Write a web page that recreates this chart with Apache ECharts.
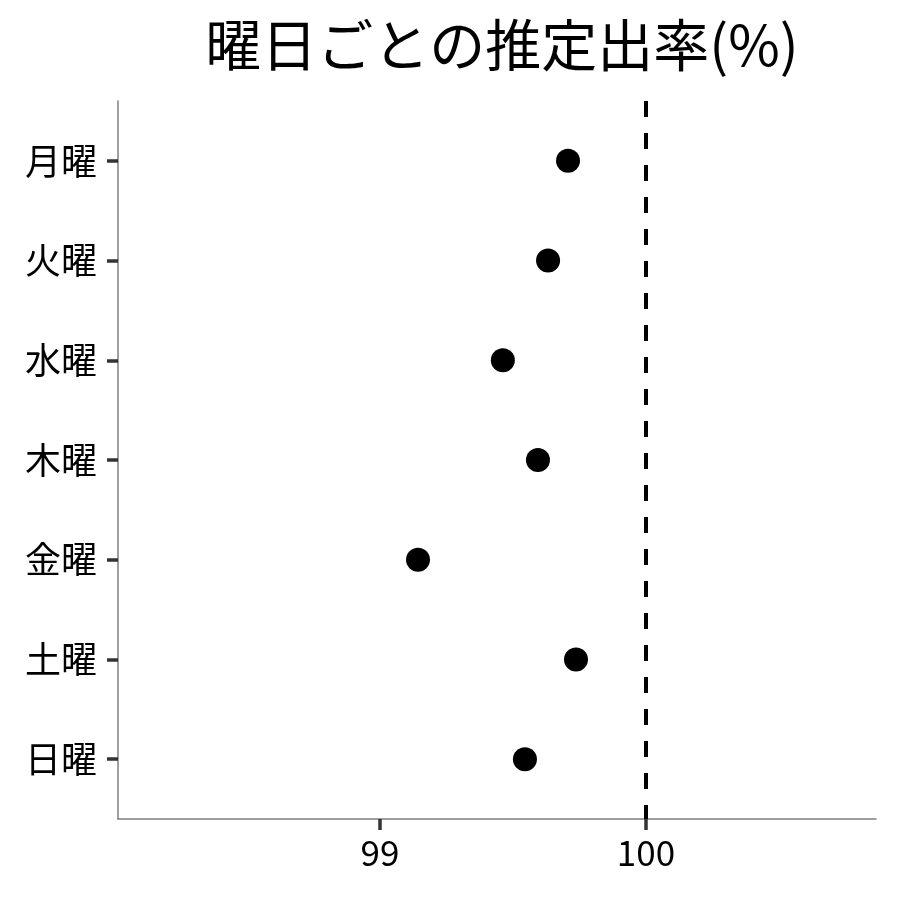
<!DOCTYPE html>
<html>
<head>
<meta charset="utf-8">
<script src="https://cdn.jsdelivr.net/npm/echarts@6/dist/echarts.min.js"></script>
<style>
  html, body { margin: 0; padding: 0; background: #fff; }
  #chart { width: 900px; height: 900px; }
</style>
</head>
<body>
<div id="chart"></div>
<script>
// 曜日と推定値（読み取り）
var days = ['月曜', '火曜', '水曜', '木曜', '金曜', '土曜', '日曜'];
var rates = [99.707, 99.632, 99.462, 99.594, 99.143, 99.737, 99.545];
var xTicks = [99, 100];
var refValue = 100;

var font = '"Noto Sans CJK JP", "Noto Sans", sans-serif';
var points = rates.map(function (v, i) { return [v, i]; });

var chart = echarts.init(document.getElementById('chart'));
var tickStyle = { color: '#333', width: 3.5 };
var option = {
  backgroundColor: '#fff',
  title: {
    text: '曜日ごとの推定出率(%)',
    left: 497,
    textAlign: 'center',
    top: 12,
    textStyle: { fontFamily: font, fontSize: 56, fontWeight: 'normal', color: '#000' }
  },
  grid: { left: 118, right: 24, top: 101, bottom: 81 },
  xAxis: {
    type: 'value',
    min: 98.015,
    max: 100.865,
    splitLine: { show: false },
    axisLine: { show: true, onZero: false, lineStyle: { color: '#7f7f7f', width: 1.5 } },
    axisTick: { show: true, length: 11, lineStyle: tickStyle, customValues: xTicks },
    axisLabel: {
      customValues: xTicks, margin: 16,
      fontFamily: font, fontSize: 35, color: '#000'
    }
  },
  yAxis: {
    type: 'value',
    inverse: true,
    min: -0.6,
    max: 6.6,
    splitLine: { show: false },
    axisLine: { show: true, onZero: false, lineStyle: { color: '#7f7f7f', width: 1.5 } },
    axisTick: { show: true, length: 11, lineStyle: tickStyle, customValues: [0, 1, 2, 3, 4, 5, 6] },
    axisLabel: {
      customValues: [0, 1, 2, 3, 4, 5, 6], margin: 21,
      fontFamily: font, fontSize: 36, color: '#000',
      formatter: function (v) { return days[Math.round(v)]; }
    }
  },
  series: [{
    type: 'scatter',
    data: points,
    symbol: 'circle',
    symbolSize: 24,
    itemStyle: { color: '#000', opacity: 1 },
    silent: true,
    markLine: {
      silent: true,
      symbol: 'none',
      label: { show: false },
      lineStyle: { color: '#000', type: [16, 16], width: 4 },
      data: [{ xAxis: refValue }]
    }
  }],
  animation: false
};
chart.setOption(option);
</script>
</body>
</html>
